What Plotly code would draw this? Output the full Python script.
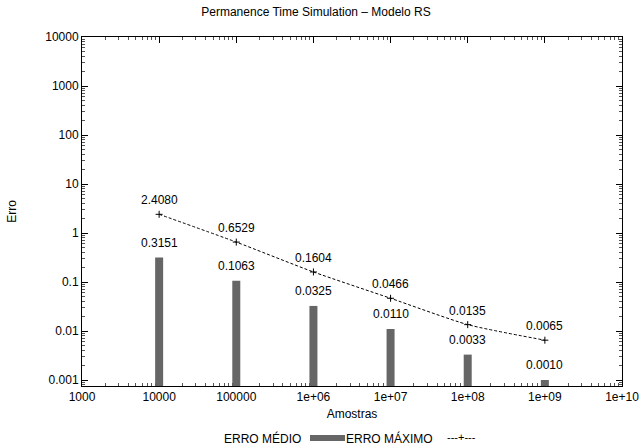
import math
import plotly.graph_objects as go

amostras = [1e4, 1e5, 1e6, 1e7, 1e8, 1e9]
erro_medio = [0.3151, 0.1063, 0.0325, 0.0110, 0.0033, 0.0010]
erro_maximo = [2.4080, 0.6529, 0.1604, 0.0466, 0.0135, 0.0065]
x_tickvals = [1e3, 1e4, 1e5, 1e6, 1e7, 1e8, 1e9, 1e10]
x_ticktext = ["1000", "10000", "100000", "1e+06", "1e+07", "1e+08", "1e+09", "1e+10"]
y_tickvals = [1e-3, 1e-2, 1e-1, 1, 10, 100, 1000, 10000]
y_ticktext = ["0.001", "0.01", "0.1", "1", "10", "100", "1000", "10000"]
minor_mult = [2, 3, 4, 5, 6, 7, 8, 9]

FONT = "Liberation Sans, Arial, sans-serif"
YMIN_LOG = -3.122
GRAY = "#666666"

# plot area in pixels (layout only)
L, R, T, B = 82, 622, 37, 386
W, H = 641, 448
PW, PH = R - L, B - T

def px_x(px):
    return (px - L) / PW

def px_y(py):
    return (B - py) / PH

x_minor = [d * m for d in x_tickvals[:-1] for m in minor_mult]
y_minor = [d * m for d in [1e-4] + y_tickvals[:-1] for m in minor_mult]

# bars drawn as thick vertical segments from the axis floor to each value
bar_x, bar_y = [], []
for xv, yv in zip(amostras, erro_medio):
    bar_x += [xv, xv, None]
    bar_y += [10 ** YMIN_LOG, yv, None]

fig = go.Figure()
fig.add_trace(go.Scatter(
    x=bar_x, y=bar_y, mode="lines",
    line=dict(color=GRAY, width=8),
    name="ERRO MÉDIO", showlegend=False, hoverinfo="skip", cliponaxis=True))
fig.add_trace(go.Scatter(
    x=amostras, y=erro_maximo, mode="lines+markers",
    line=dict(color="black", width=1, dash="3px,2px", shape="spline", smoothing=0.6),
    marker=dict(symbol="cross-thin", size=5, line=dict(color="black", width=1)),
    name="ERRO MÁXIMO", showlegend=False))

annotations = []
for xv, yv in zip(amostras, erro_medio):
    annotations.append(dict(x=math.log10(xv), y=math.log10(yv), xref="x", yref="y",
                            text=f"{yv:.4f}", showarrow=False, yshift=15,
                            font=dict(family=FONT, size=12, color="black")))
for xv, yv in zip(amostras, erro_maximo):
    annotations.append(dict(x=math.log10(xv), y=math.log10(yv), xref="x", yref="y",
                            text=f"{yv:.4f}", showarrow=False, yshift=14,
                            font=dict(family=FONT, size=12, color="black")))

# gnuplot-style legend below the axis title
annotations.append(dict(x=px_x(262), y=px_y(438), xref="paper", yref="paper",
                        text="ERRO MÉDIO", showarrow=False, xanchor="center", yanchor="middle",
                        font=dict(family=FONT, size=12, color="black")))
annotations.append(dict(x=px_x(389), y=px_y(438), xref="paper", yref="paper",
                        text="ERRO MÁXIMO", showarrow=False, xanchor="center", yanchor="middle",
                        font=dict(family=FONT, size=12, color="black")))
annotations.append(dict(x=px_x(461), y=px_y(437), xref="paper", yref="paper",
                        text="---+---", showarrow=False, xanchor="center", yanchor="middle",
                        font=dict(family=FONT, size=11, color="black")))

fig.update_layout(
    width=W, height=H,
    margin=dict(l=L, r=W - R, t=T, b=H - B, autoexpand=False),
    paper_bgcolor="white", plot_bgcolor="white",
    font=dict(family=FONT, size=12, color="black"),
    title=dict(text="Permanence Time Simulation – Modelo RS", x=316 / W, xref="container",
               xanchor="center", y=1 - 12 / H, yref="container", yanchor="middle",
               font=dict(family=FONT, size=12, color="black")),
    annotations=annotations,
    shapes=[dict(type="rect", xref="paper", yref="paper",
                 x0=px_x(310), x1=px_x(345), y0=px_y(435), y1=px_y(441),
                 fillcolor=GRAY, line=dict(width=0))],
    showlegend=False,
)
fig.update_xaxes(
    type="log", range=[3, 10], tickvals=x_tickvals, ticktext=x_ticktext,
    showgrid=False, zeroline=False, showline=True, linecolor="black", linewidth=1,
    mirror="allticks", ticks="inside", ticklen=6, tickcolor="black",
    minor=dict(tickvals=x_minor, ticks="inside", ticklen=3, tickcolor="#555555",
               showgrid=False),
    tickfont=dict(family=FONT, size=12, color="black"), automargin=False,
    layer="below traces",
    title=dict(text="Amostras", standoff=6, font=dict(family=FONT, size=12, color="black")),
)
fig.update_yaxes(
    type="log", range=[YMIN_LOG, 4], tickvals=y_tickvals, ticktext=y_ticktext,
    showgrid=False, zeroline=False, showline=True, linecolor="black", linewidth=1,
    mirror="allticks", ticks="inside", ticklen=6, tickcolor="black",
    minor=dict(tickvals=y_minor, ticks="inside", ticklen=3, tickcolor="#555555",
               showgrid=False),
    tickfont=dict(family=FONT, size=12, color="black"), automargin=False,
    layer="below traces",
    title=dict(text="Erro", standoff=26, font=dict(family=FONT, size=12, color="black")),
)

fig.write_html("out.html", config={"displayModeBar": False},
               post_script="document.body.style.margin='0';document.body.style.padding='0';")
